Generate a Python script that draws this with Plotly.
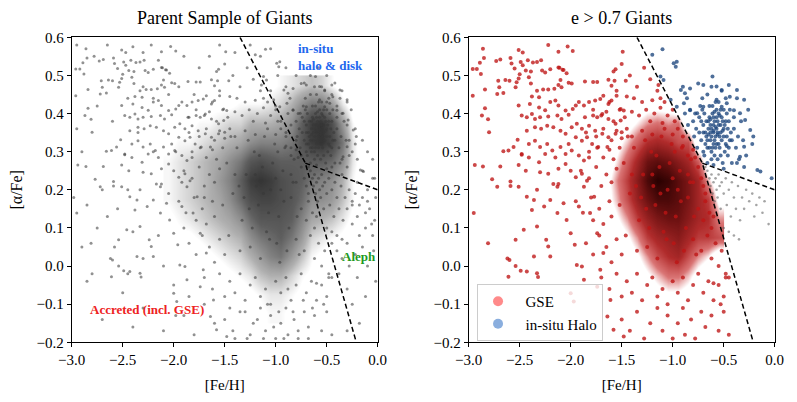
import plotly.graph_objects as go

# dividing lines used to split the populations
cut_feh = [-1.35, -0.71, -0.21]
cut_afe = [0.60, 0.27, -0.20]
disk_feh = [-0.71, 0.0]
disk_afe = [0.27, 0.20]

# GSE stars (e > 0.7, left of the cut)
gse_pts = [
    (-2.22, 0.58), (-2.86, 0.57), (-2.51, 0.567), (-2.47, 0.56), (-2.12, 0.562), (-2.03, 0.576), (-1.98, 0.564),
    (-1.49, 0.562), (-2.85, 0.546), (-2.89, 0.533), (-2.73, 0.538), (-2.69, 0.542), (-2.59, 0.546), (-2.58, 0.531),
    (-2.49, 0.535), (-2.42, 0.54), (-2.37, 0.534), (-2.33, 0.535), (-2.29, 0.54), (-2.96, 0.517), (-2.92, 0.517),
    (-2.88, 0.504), (-2.47, 0.527), (-2.44, 0.513), (-2.39, 0.51), (-2.28, 0.513), (-2.11, 0.52), (-2.07, 0.514),
    (-2.04, 0.506), (-2.55, 0.518), (-2.50, 0.503), (-2.51, 0.492), (-2.41, 0.495), (-2.39, 0.479), (-2.71, 0.486),
    (-2.64, 0.488), (-2.60, 0.486), (-2.70, 0.469), (-2.72, 0.451), (-2.66, 0.454), (-2.84, 0.463), (-2.96, 0.447),
    (-2.84, 0.414), (-2.87, 0.395), (-2.81, 0.385), (-2.80, 0.351), (-2.94, 0.265), (-2.77, 0.228), (-2.59, 0.21),
    (-2.69, 0.261), (-2.66, 0.301), (-2.61, 0.303), (-2.56, 0.312), (-2.52, 0.331), (-2.48, 0.292), (-2.51, 0.265),
    (-2.54, 0.469), (-2.53, 0.482),
    (-2.25, 0.508), (-2.20, 0.516), (-2.12, 0.521), (-2.08, 0.515), (-2.02, 0.481), (-1.99, 0.479), (-1.86, 0.484),
    (-1.78, 0.483), (-1.74, 0.483), (-1.63, 0.489), (-1.57, 0.486), (-1.56, 0.516), (-1.46, 0.486), (-1.60, 0.473),
    (-2.10, 0.488), (-2.12, 0.475), (-2.09, 0.469), (-2.16, 0.465), (-2.22, 0.463), (-2.27, 0.463), (-2.31, 0.443),
    (-2.33, 0.46), (-2.38, 0.445), (-2.40, 0.425), (-2.31, 0.416), (-2.25, 0.409), (-2.20, 0.43), (-2.15, 0.434),
    (-2.12, 0.421), (-2.05, 0.408), (-2.02, 0.397), (-1.98, 0.412), (-1.95, 0.421), (-1.92, 0.43), (-1.87, 0.421),
    (-1.82, 0.43), (-1.76, 0.434), (-1.71, 0.438), (-1.68, 0.447), (-1.63, 0.425), (-1.60, 0.434), (-1.55, 0.447),
    (-1.51, 0.412), (-1.48, 0.408), (-1.86, 0.39), (-1.78, 0.395), (-1.74, 0.39), (-1.69, 0.399), (-1.63, 0.386),
    (-1.56, 0.373), (-1.51, 0.382), (-2.51, 0.421), (-2.48, 0.395), (-2.43, 0.39), (-2.38, 0.399), (-2.35, 0.386),
    (-2.30, 0.39), (-2.22, 0.392), (-2.13, 0.395), (-2.09, 0.386), (-2.43, 0.355), (-2.35, 0.364), (-2.29, 0.36),
    (-2.23, 0.368), (-2.17, 0.364), (-2.10, 0.355), (-2.05, 0.347), (-1.99, 0.364), (-1.94, 0.373), (-1.89, 0.36),
    (-1.82, 0.368), (-1.76, 0.355), (-1.69, 0.347), (-1.63, 0.338), (-1.56, 0.347), (-1.50, 0.351), (-2.41, 0.32),
    (-2.35, 0.329), (-2.30, 0.312), (-2.23, 0.32), (-2.18, 0.303), (-2.10, 0.312), (-2.02, 0.32), (-1.95, 0.338),
    (-1.89, 0.329), (-1.84, 0.338), (-1.79, 0.32), (-1.73, 0.312), (-1.64, 0.312), (-2.48, 0.294), (-2.41, 0.285),
    (-2.31, 0.272), (-2.25, 0.294), (-2.15, 0.285), (-2.05, 0.294), (-1.99, 0.303), (-1.92, 0.29), (-1.87, 0.277),
    (-1.82, 0.285), (-2.44, 0.25), (-2.30, 0.246), (-2.22, 0.242), (-2.12, 0.255), (-2.05, 0.268), (-2.00, 0.25),
    (-1.95, 0.233), (-1.89, 0.242), (-1.84, 0.224), (-2.17, 0.215), (-2.12, 0.215),
    (-2.81, 0.06), (-2.62, 0.02), (-2.60, 0.016), (-2.61, -0.028), (-2.54, 0.069), (-2.54, 0.0), (-2.49, -0.012),
    (-2.43, -0.014), (-2.33, -0.019), (-2.32, -0.029), (-2.36, 0.025), (-2.24, 0.069), (-2.22, 0.051), (-2.20, 0.025),
    (-2.13, 0.139), (-2.04, 0.121), (-2.00, 0.086), (-1.96, 0.056), (-1.94, 0.003), (-1.89, -0.001), (-2.00, -0.071),
    (-1.97, -0.093), (-1.87, -0.036), (-2.13, 0.208), (-2.26, 0.156), (-2.36, 0.173), (-2.38, 0.147), (-2.51, 0.208),
    (-2.43, 0.182), (-2.33, 0.20), (-2.72, 0.208), (-2.59, 0.222), (-2.95, 0.139), (-2.86, 0.261), (-2.46, 0.095),
    (-2.33, 0.104), (-2.20, 0.173), (-2.07, 0.165), (-1.92, 0.156), (-1.81, 0.139), (-1.77, 0.182), (-1.87, 0.208),
    (-1.74, 0.086), (-1.68, 0.034), (-1.71, -0.01), (-1.74, -0.054), (-1.61, -0.089), (-1.64, -0.132), (-1.58, -0.167),
    (-1.48, -0.185),
    (-1.58, 0.51), (-1.50, 0.53), (-1.42, 0.50), (-1.35, 0.47), (-1.28, 0.52), (-1.22, 0.49), (-1.15, 0.46),
    (-1.14, 0.475), (-1.55, 0.46), (-1.45, 0.445), (-1.38, 0.44), (-1.62, 0.43), (-1.30, 0.43), (-1.20, 0.435),
    (-1.12, 0.44), (-1.08, 0.43), (-1.78, 0.41), (-1.70, 0.395), (-1.65, 0.405), (-1.52, 0.41), (-1.47, 0.39),
    (-1.40, 0.405), (-1.33, 0.395), (-1.26, 0.41), (-1.18, 0.40), (-1.12, 0.415), (-1.05, 0.395), (-1.00, 0.41),
    (-1.58, 0.38), (-1.22, 0.38), (-1.10, 0.375), (-0.98, 0.38), (-1.85, 0.35), (-1.75, 0.34), (-1.68, 0.36),
    (-1.60, 0.33), (-1.55, 0.355), (-1.50, 0.335), (-1.45, 0.36), (-1.40, 0.34), (-1.30, 0.355), (-1.20, 0.345),
    (-1.08, 0.36), (-1.00, 0.345), (-0.95, 0.36), (-0.90, 0.34), (-1.82, 0.30), (-1.74, 0.31), (-1.68, 0.285),
    (-1.62, 0.305), (-1.58, 0.28), (-1.52, 0.31), (-0.98, 0.30), (-0.90, 0.315), (-0.85, 0.29), (-0.80, 0.305),
    (-0.78, 0.285), (-1.90, 0.25), (-1.82, 0.23), (-1.75, 0.26), (-1.70, 0.21), (-1.65, 0.24), (-1.60, 0.22),
    (-1.55, 0.255), (-0.85, 0.24), (-0.80, 0.22), (-0.75, 0.26), (-0.72, 0.23), (-0.70, 0.21), (-0.68, 0.19),
    (-1.95, 0.17), (-1.88, 0.14), (-1.80, 0.18), (-1.78, 0.12), (-1.72, 0.15), (-1.68, 0.11), (-1.62, 0.17),
    (-1.60, 0.13), (-0.75, 0.15), (-0.70, 0.12), (-0.68, 0.17), (-0.64, 0.14), (-0.62, 0.10), (-0.60, 0.13),
    (-1.85, 0.06), (-1.78, 0.03), (-1.72, 0.08), (-1.65, 0.05), (-1.60, 0.01), (-1.55, 0.07), (-1.50, 0.03),
    (-0.80, 0.07), (-0.72, 0.04), (-0.66, 0.08), (-0.62, 0.02), (-0.58, 0.06), (-0.55, 0.0), (-0.52, 0.04),
    (-0.48, -0.02), (-1.70, -0.03), (-1.62, -0.06), (-1.55, -0.02), (-1.50, -0.08), (-1.45, -0.04), (-1.40, -0.07),
    (-1.35, -0.02), (-1.30, -0.09), (-1.25, -0.05), (-1.20, -0.03), (-1.15, -0.08), (-1.10, -0.06), (-1.05, -0.10),
    (-1.00, -0.04), (-0.95, -0.07), (-0.90, -0.03), (-0.85, -0.09), (-0.80, -0.05), (-0.75, -0.02), (-0.70, -0.07),
    (-0.65, -0.04), (-0.60, -0.09), (-0.55, -0.05), (-0.50, -0.08), (-0.45, -0.03), (-1.50, -0.14), (-1.42, -0.17),
    (-1.35, -0.12), (-1.28, -0.19), (-1.22, -0.15), (-1.15, -0.11), (-1.10, -0.17), (-1.05, -0.13), (-1.00, -0.19),
    (-0.95, -0.15), (-0.90, -0.11), (-0.88, -0.18), (-0.82, -0.14), (-0.78, -0.19), (-0.72, -0.12), (-0.68, -0.16),
    (-0.62, -0.13), (-0.55, -0.17), (-0.50, -0.12), (-0.45, -0.18), (-0.60, -0.045), (-0.53, -0.10), (-0.48, -0.03),
    (-1.48, 0.27), (-1.42, 0.19), (-1.38, 0.31), (-1.33, 0.12), (-1.29, 0.24), (-1.25, 0.05), (-1.21, 0.30),
    (-1.17, 0.16), (-1.13, 0.26), (-1.09, 0.09), (-1.05, 0.20), (-1.01, 0.32), (-0.97, 0.13), (-0.93, 0.25),
    (-0.89, 0.04), (-0.85, 0.18), (-0.82, 0.28), (-1.46, 0.08), (-1.40, 0.24), (-1.35, 0.04), (-1.31, 0.18),
    (-1.27, 0.33), (-1.23, 0.10), (-1.19, 0.21), (-1.15, 0.02), (-1.11, 0.34), (-1.07, 0.14), (-1.03, 0.27),
    (-0.99, 0.06), (-0.95, 0.20), (-0.91, 0.31), (-0.87, 0.10), (-0.83, 0.22), (-0.79, 0.13), (-0.77, 0.03),
    (-1.52, 0.16), (-1.44, 0.34), (-1.36, 0.21), (-1.26, 0.15), (-1.16, 0.29), (-1.06, 0.07), (-0.96, 0.01),
    (-0.92, 0.17), (-1.00, 0.23), (-1.20, 0.24), (-1.12, 0.19),
]

# in-situ halo stars (e > 0.7, upper right of the cut)
insitu_pts = [
    (-1.20, 0.554), (-1.10, 0.569), (-0.99, 0.532), (-0.97, 0.523), (-0.96, 0.536), (-1.12, 0.497), (-1.09, 0.488),
    (-0.92, 0.462), (-0.88, 0.453), (-0.83, 0.466), (-0.75, 0.479), (-0.70, 0.475), (-0.61, 0.497), (-0.57, 0.471),
    (-0.52, 0.462), (-0.45, 0.475), (-0.37, 0.462), (-0.30, 0.436), (-0.44, 0.444), (-1.02, 0.436), (-0.96, 0.418),
    (-0.89, 0.427), (-0.83, 0.409), (-0.76, 0.401), (-0.70, 0.418), (-0.57, 0.436), (-0.52, 0.418), (-0.47, 0.427),
    (-0.40, 0.409), (-0.34, 0.401), (-0.29, 0.383), (-0.24, 0.357), (-0.21, 0.340), (-0.30, 0.313), (-0.34, 0.287),
    (-0.37, 0.270), (-0.17, 0.252), (-0.14, 0.248), (-0.03, 0.23),
    (-0.62, 0.36), (-0.58, 0.34), (-0.55, 0.37), (-0.60, 0.32), (-0.65, 0.38), (-0.52, 0.33), (-0.57, 0.39),
    (-0.63, 0.33), (-0.50, 0.36), (-0.68, 0.35), (-0.61, 0.40), (-0.54, 0.31), (-0.70, 0.37), (-0.47, 0.34),
    (-0.59, 0.29), (-0.66, 0.31), (-0.53, 0.41), (-0.72, 0.33), (-0.45, 0.38), (-0.49, 0.30), (-0.74, 0.39),
    (-0.64, 0.42), (-0.56, 0.28), (-0.42, 0.33), (-0.77, 0.36), (-0.69, 0.29), (-0.51, 0.38), (-0.60, 0.37),
    (-0.40, 0.36), (-0.46, 0.29), (-0.80, 0.38), (-0.73, 0.42), (-0.58, 0.43), (-0.44, 0.41), (-0.38, 0.31),
    (-0.62, 0.28), (-0.70, 0.30), (-0.83, 0.41), (-0.79, 0.34), (-0.76, 0.31), (-0.66, 0.27), (-0.60, 0.265),
    (-0.50, 0.255), (-0.42, 0.27), (-0.35, 0.28), (-0.30, 0.26), (-0.36, 0.34), (-0.33, 0.38), (-0.48, 0.44),
    (-0.52, 0.46), (-0.66, 0.45), (-0.71, 0.44), (-0.86, 0.44), (-0.90, 0.47), (-0.56, 0.35), (-0.63, 0.35),
    (-0.53, 0.35), (-0.59, 0.38), (-0.61, 0.31), (-0.67, 0.34), (-0.48, 0.32), (-0.55, 0.40), (-0.57, 0.32),
    (-0.64, 0.39), (-0.51, 0.27), (-0.45, 0.31), (-0.40, 0.39), (-0.74, 0.35), (-0.78, 0.40), (-0.69, 0.40),
    (-0.62, 0.47), (-0.47, 0.40), (-0.43, 0.35), (-0.37, 0.44), (-0.31, 0.33), (-0.28, 0.29), (-0.26, 0.41),
    (-0.22, 0.32), (-0.85, 0.37), (-0.88, 0.40),
    (-0.60, 0.35), (-0.57, 0.36), (-0.54, 0.34), (-0.65, 0.36), (-0.62, 0.34), (-0.59, 0.33), (-0.56, 0.38),
    (-0.53, 0.37), (-0.50, 0.34), (-0.67, 0.38), (-0.63, 0.37), (-0.60, 0.39), (-0.58, 0.31), (-0.55, 0.32),
    (-0.52, 0.39), (-0.49, 0.37), (-0.66, 0.33), (-0.70, 0.35), (-0.61, 0.42), (-0.57, 0.41), (-0.64, 0.31),
    (-0.68, 0.32), (-0.55, 0.43), (-0.50, 0.41), (-0.46, 0.36), (-0.44, 0.33), (-0.72, 0.38), (-0.62, 0.30),
    (-0.53, 0.29), (-0.48, 0.38), (-0.58, 0.365), (-0.60, 0.355), (-0.56, 0.345), (-0.63, 0.385), (-0.51, 0.355),
    (-0.65, 0.345), (-0.59, 0.405), (-0.54, 0.395), (-0.47, 0.315), (-0.71, 0.41),
]

# e > 0.7 stars in the Aleph corner (grey)
aleph_pts = [
    (-0.66, 0.25), (-0.64, 0.23), (-0.62, 0.24), (-0.63, 0.21), (-0.60, 0.22), (-0.61, 0.19), (-0.58, 0.23),
    (-0.57, 0.20), (-0.59, 0.17), (-0.55, 0.24), (-0.54, 0.21), (-0.56, 0.18), (-0.52, 0.22), (-0.50, 0.19),
    (-0.53, 0.15), (-0.48, 0.23), (-0.47, 0.16), (-0.45, 0.20), (-0.43, 0.13), (-0.42, 0.22), (-0.40, 0.18),
    (-0.38, 0.15), (-0.36, 0.21), (-0.34, 0.12), (-0.32, 0.18), (-0.30, 0.15), (-0.28, 0.20), (-0.25, 0.17),
    (-0.22, 0.19), (-0.20, 0.13), (-0.18, 0.16), (-0.15, 0.18), (-0.12, 0.14), (-0.10, 0.17), (-0.06, 0.11),
    (-0.50, 0.10), (-0.45, 0.09), (-0.40, 0.08), (-0.35, 0.07), (-0.68, 0.26),
]

# remaining parent-sample giants (low eccentricity), left panel only
lowe_pts = [
    (-0.60, 0.45), (-0.55, 0.47), (-0.50, 0.43), (-0.45, 0.45), (-0.40, 0.42), (-0.35, 0.40), (-0.30, 0.37),
    (-0.28, 0.33), (-0.25, 0.30), (-0.22, 0.36), (-0.20, 0.28), (-0.65, 0.30), (-0.70, 0.32), (-0.75, 0.29),
    (-0.80, 0.33), (-0.85, 0.31), (-0.90, 0.35), (-0.95, 0.38), (-1.00, 0.42), (-1.05, 0.46), (-0.98, 0.50),
    (-0.90, 0.52), (-0.80, 0.50), (-0.72, 0.48), (-0.66, 0.50), (-0.58, 0.52), (-0.50, 0.50), (-0.42, 0.48),
    (-0.35, 0.46), (-0.30, 0.43),
    (-0.20, 0.22), (-0.15, 0.25), (-0.10, 0.20), (-0.05, 0.23), (-0.02, 0.18), (-0.08, 0.15), (-0.12, 0.10),
    (-0.18, 0.08), (-0.25, 0.11), (-0.30, 0.06), (-0.35, 0.02), (-0.40, 0.04), (-0.45, 0.06), (-0.28, 0.00),
    (-0.22, 0.03), (-0.15, 0.05), (-0.05, 0.08), (-0.03, 0.12), (-0.10, 0.00), (-0.20, -0.03), (-0.30, -0.06),
    (-0.38, -0.02), (-0.25, 0.16), (-0.35, 0.24), (-0.45, 0.26), (-0.05, 0.28), (-0.10, 0.30), (-0.15, 0.33),
    (-0.04, 0.04), (-0.02, -0.04), (-0.12, -0.08), (-0.25, -0.10), (-0.18, -0.15), (-0.30, -0.17),
    (-1.30, -0.12), (-1.25, -0.18), (-1.18, -0.14), (-1.12, -0.19), (-1.08, -0.10), (-1.02, -0.16), (-0.97, -0.12),
    (-0.92, -0.19), (-0.88, -0.06), (-0.83, -0.12), (-0.78, -0.17), (-0.73, -0.09), (-0.68, -0.19), (-0.64, -0.11),
    (-1.40, -0.19), (-1.45, -0.11), (-1.60, -0.15), (-1.70, -0.10), (-1.80, -0.18), (-1.90, -0.13), (-2.10, -0.17),
    (-2.30, -0.11), (-2.50, -0.07), (-2.70, -0.14), (-2.85, -0.04), (-2.40, -0.16), (-2.00, -0.05), (-1.98, -0.13),
    (-2.95, 0.58), (-2.78, 0.55), (-2.65, 0.58), (-2.40, 0.575), (-2.30, 0.56), (-2.15, 0.54), (-1.90, 0.55),
    (-1.75, 0.52), (-1.65, 0.55), (-1.55, 0.58), (-1.40, 0.56), (-1.25, 0.58), (-1.15, 0.55), (-1.05, 0.57),
    (-2.90, 0.30), (-2.85, 0.16), (-2.75, 0.10), (-2.90, 0.05), (-2.65, 0.13), (-2.60, 0.38), (-2.45, 0.44),
    (-2.30, 0.47), (-2.20, 0.44), (-2.05, 0.45), (-1.95, 0.47), (-1.85, 0.39), (-1.80, 0.45), (-2.75, 0.42),
    (-2.95, 0.36), (-2.98, 0.18), (-2.70, 0.20), (-2.55, 0.15), (-2.40, 0.09), (-2.30, 0.02), (-2.15, 0.08),
    (-2.05, 0.19), (-1.92, 0.22), (-1.98, 0.30), (-2.20, 0.30), (-2.35, 0.35), (-2.58, 0.05), (-2.80, -0.02),
    (-2.45, -0.02), (-2.10, 0.00), (-1.85, -0.08), (-1.70, 0.18), (-1.90, 0.10), (-2.45, 0.20),
]

# star density where the points merge into a solid cloud (relative, 0-10)
dens_y = [-0.125, -0.075, -0.025, 0.025, 0.075, 0.125, 0.175, 0.225, 0.275, 0.325, 0.375, 0.425, 0.475]

parent_x = [-2.05, -1.95, -1.85, -1.75, -1.65, -1.55, -1.45, -1.35, -1.25, -1.15, -1.05, -0.95, -0.85, -0.75,
            -0.65, -0.55, -0.45, -0.35, -0.25, -0.15]
parent_dens = [
    [0, 0, 0, 0, 0, 0, 0, 0, 0, 0.5, 1, 1, 0.5, 0, 0, 0, 0, 0, 0, 0],
    [0, 0, 0, 0, 0, 0, 0, 0, 0.5, 1, 1.5, 1.5, 1, 0.5, 0, 0, 0, 0, 0, 0],
    [0, 0, 0, 0, 0, 0, 0.5, 1, 1.5, 2.5, 3, 3, 2, 1, 0.5, 0, 0, 0, 0, 0],
    [0, 0, 0, 0, 0.5, 1, 1.5, 2, 3, 4, 5, 5.5, 4, 2.5, 1, 0.5, 0, 0, 0, 0],
    [0, 0.5, 0.5, 1, 1.5, 2, 2.5, 3, 4.5, 5.5, 6, 6.5, 5.5, 4, 2, 1.5, 1, 0.5, 0, 0],
    [0.5, 1, 1.5, 2, 2.5, 3, 3.5, 4.5, 6, 7, 7, 7, 6.5, 5, 3.5, 3, 2.5, 1.5, 0.5, 0],
    [1, 1.5, 2, 2.5, 3, 3.5, 4.5, 6, 7.5, 8, 8, 7.5, 7, 6, 4.5, 4.5, 4, 2.5, 1, 0],
    [1, 1.5, 2, 2.5, 3, 4, 5, 6.5, 8.5, 9, 8.5, 7.5, 7, 6.5, 5.5, 5, 4.5, 3, 1, 0],
    [1, 1.5, 2, 2.5, 3, 3.5, 4.5, 5.5, 7, 7.5, 7, 6.5, 6.5, 6.5, 6.5, 6.5, 6, 4.5, 1.5, 0],
    [0.5, 1, 1, 1.5, 2, 2.5, 3, 3.5, 4.5, 5, 5, 5, 5.5, 7, 8.5, 9, 8, 5.5, 1.5, 0],
    [0, 0.5, 0.5, 1, 1, 1.5, 2, 2, 3, 3, 3, 3.5, 4.5, 6.5, 8.5, 9, 7.5, 4, 1, 0],
    [0, 0, 0, 0, 0.5, 0.5, 0.5, 1, 1, 1, 1.5, 2, 3, 4.5, 5.5, 5.5, 4, 1.5, 0, 0],
    [0, 0, 0, 0, 0, 0, 0, 0, 0, 0, 0.5, 1, 1.5, 2, 2.5, 2, 1, 0, 0, 0],
]

gse_x = [-1.75, -1.65, -1.55, -1.45, -1.35, -1.25, -1.15, -1.05, -0.95, -0.85, -0.75, -0.65, -0.55]
gse_dens = [
    [0, 0, 0, 0, 0, 0, 0, 0, 0, 0, 0, 0, 0],
    [0, 0, 0, 0, 0, 0, 1, 1.5, 1.5, 1, 0, 0, 0],
    [0, 0, 0, 0, 0.5, 1.5, 2.5, 3.5, 3.5, 2.5, 1, 0, 0],
    [0, 0, 0, 0.5, 1.5, 3, 4.5, 5.5, 6, 4.5, 3, 2, 0],
    [0, 0, 0.5, 1.5, 3, 5, 6, 6.5, 7, 6, 5, 5, 4.5],
    [0, 0.5, 1.5, 3, 5, 6.5, 7.5, 8, 8, 7, 6, 5.5, 3],
    [0, 1, 2.5, 4.5, 6.5, 8, 9, 9, 8.5, 7.5, 6, 5, 1],
    [0, 1, 3, 5, 7, 9, 10, 9.5, 8.5, 7.5, 6, 2.5, 0],
    [0, 0.5, 2, 4, 6, 8, 8.5, 8, 7, 6, 4, 0, 0],
    [0, 0, 1, 2.5, 4, 5.5, 6, 5.5, 4.5, 4.5, 0, 0, 0],
    [0, 0, 0.5, 1, 2, 3, 3.5, 3, 3.5, 0, 0, 0, 0],
    [0, 0, 0, 0, 0.5, 1, 1, 1, 0, 0, 0, 0, 0],
    [0, 0, 0, 0, 0, 0, 0, 0, 0, 0, 0, 0, 0],
]


def split(pts):
    return [p[0] for p in pts], [p[1] for p in pts]


FONT = "Liberation Serif"

fig = go.Figure()

# left panel: parent sample
fig.add_trace(go.Heatmap(x=parent_x, y=dens_y, z=parent_dens, zmin=0, zmax=10, zsmooth="best",
                         colorscale=[[0, "rgba(40,40,40,0)"], [0.08, "rgba(40,40,40,0)"],
                                     [0.3, "rgba(45,45,45,0.38)"], [0.65, "rgba(30,30,30,0.72)"],
                                     [1, "rgba(10,10,10,0.9)"]],
                         showscale=False, hoverinfo="skip", xaxis="x", yaxis="y"))
px_, py_ = split(gse_pts + insitu_pts + aleph_pts + lowe_pts)
fig.add_trace(go.Scatter(x=px_, y=py_, mode="markers", showlegend=False, xaxis="x", yaxis="y",
                         marker=dict(size=3, color="rgba(55,55,55,0.55)")))
for xs, ys in [(cut_feh, cut_afe), (disk_feh, disk_afe)]:
    fig.add_trace(go.Scatter(x=xs, y=ys, mode="lines", showlegend=False, xaxis="x", yaxis="y",
                             line=dict(color="black", width=1.5, dash="5px,3px")))

# right panel: e > 0.7
fig.add_trace(go.Heatmap(x=gse_x, y=dens_y, z=gse_dens, zmin=0, zmax=10, zsmooth="best",
                         colorscale=[[0, "rgba(200,30,30,0)"], [0.18, "rgba(200,30,30,0)"],
                                     [0.33, "rgba(192,24,24,0.6)"], [0.55, "rgba(165,14,14,0.88)"],
                                     [0.8, "rgba(100,4,4,0.95)"], [1, "rgba(40,0,0,1)"]],
                         showscale=False, hoverinfo="skip", xaxis="x2", yaxis="y2"))
ax, ay = split(aleph_pts)
fig.add_trace(go.Scatter(x=ax, y=ay, mode="markers", showlegend=False, xaxis="x2", yaxis="y2",
                         marker=dict(size=2.6, color="rgba(90,90,90,0.55)")))
gx, gy = split(gse_pts)
fig.add_trace(go.Scatter(x=gx, y=gy, mode="markers", showlegend=False, xaxis="x2", yaxis="y2",
                         marker=dict(size=4, color="rgba(190,20,20,0.78)")))
ix, iy = split(insitu_pts)
fig.add_trace(go.Scatter(x=ix, y=iy, mode="markers", showlegend=False, xaxis="x2", yaxis="y2",
                         marker=dict(size=4, color="rgba(30,70,125,0.78)")))
for xs, ys in [(cut_feh, cut_afe), (disk_feh, disk_afe)]:
    fig.add_trace(go.Scatter(x=xs, y=ys, mode="lines", showlegend=False, xaxis="x2", yaxis="y2",
                             line=dict(color="black", width=1.5, dash="5px,3px")))

# legend entries (lighter, bigger symbols like the reference)
fig.add_trace(go.Scatter(x=[None], y=[None], mode="markers", name="\u00a0\u00a0GSE", xaxis="x2", yaxis="y2",
                         marker=dict(size=10, color="rgba(255,60,60,0.6)")))
fig.add_trace(go.Scatter(x=[None], y=[None], mode="markers", name="\u00a0\u00a0in-situ Halo", xaxis="x2",
                         yaxis="y2", marker=dict(size=10, color="rgba(60,120,200,0.6)")))

axis_style = dict(showline=True, linecolor="black", linewidth=1, mirror=True, ticks="outside",
                  ticklen=4, tickcolor="black", showgrid=False, zeroline=False, automargin=False,
                  tickfont=dict(family=FONT, size=15, color="black"))
xstyle = dict(axis_style, range=[-3.0, 0.0], dtick=0.5, tickformat=".1f",
              title=dict(text="[Fe/H]", font=dict(family=FONT, size=15), standoff=12))
ystyle = dict(axis_style, range=[-0.2, 0.6], dtick=0.1, tickformat=".1f",
              title=dict(text="[α/Fe]", font=dict(family=FONT, size=16), standoff=11))

# the page body adds 8px around the figure, so the domains are shifted by that much
fig.update_layout(
    width=797, height=402,
    margin=dict(l=0, r=0, t=0, b=0),
    plot_bgcolor="white", paper_bgcolor="white",
    font=dict(family=FONT, color="black"),
    xaxis=dict(xstyle, domain=[0.0799, 0.4639], anchor="y"),
    yaxis=dict(ystyle, domain=[0.1684, 0.9271], anchor="x"),
    xaxis2=dict(xstyle, domain=[0.578, 0.962], anchor="y2"),
    yaxis2=dict(ystyle, domain=[0.1684, 0.9271], anchor="x2"),
    legend=dict(x=0.5885, y=0.3134, xanchor="left", yanchor="top", bgcolor="rgba(255,255,255,0.8)",
                bordercolor="#cccccc", borderwidth=1, itemsizing="trace",
                font=dict(family=FONT, size=15)),
    annotations=[
        dict(text="Parent Sample of Giants", xref="paper", yref="paper", x=0.2719, y=0.945,
             xanchor="center", yanchor="bottom", showarrow=False, font=dict(family=FONT, size=18)),
        dict(text="e > 0.7 Giants", xref="paper", yref="paper", x=0.770, y=0.945,
             xanchor="center", yanchor="bottom", showarrow=False, font=dict(family=FONT, size=18)),
        dict(text="<b>in-situ<br>halo & disk</b>", xref="x", yref="y", x=-0.8, y=0.595,
             xanchor="left", yanchor="top", align="left", showarrow=False,
             font=dict(family=FONT, size=13, color="#2266ee")),
        dict(text="<b>Aleph</b>", xref="x", yref="y", x=-0.37, y=0.024, xanchor="left",
             showarrow=False, font=dict(family=FONT, size=13, color="#229922")),
        dict(text="<b>Accreted (incl. GSE)</b>", xref="x", yref="y", x=-2.84, y=-0.113,
             xanchor="left", showarrow=False, font=dict(family=FONT, size=13, color="#ee2222")),
    ],
)

fig.write_html("out.html")
